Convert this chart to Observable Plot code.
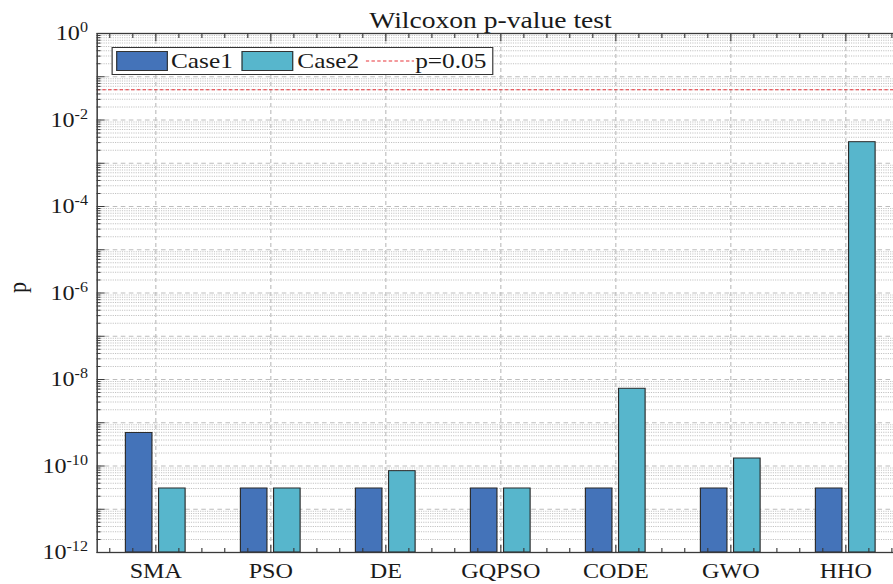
<!DOCTYPE html>
<html><head><meta charset="utf-8">
<script src="https://cdn.jsdelivr.net/npm/d3@7"></script>
<script src="https://cdn.jsdelivr.net/npm/@observablehq/plot@0.6"></script>
<style>
html,body{margin:0;padding:0;background:#fff;overflow:hidden;width:893px;height:584px}
#fig{position:relative;width:786px;height:584px;transform:scaleX(1.15);transform-origin:0 0;font-family:"Liberation Serif","Times New Roman",serif;color:#1a1a1a}
#fig svg.main{position:absolute;left:0;top:0}
.legbox{position:absolute;left:96.5px;top:47px;width:332px;height:28px;border:1px solid #333;background:#fff;box-sizing:border-box}
.sw{position:absolute;top:51px;width:45px;height:20px;border:1px solid #333;box-sizing:border-box}
.lt{position:absolute;top:47px;height:28px;line-height:28px;font-size:22px;white-space:nowrap}
svg.ll{position:absolute;left:318px;top:47px}
</style></head><body><div id="fig"></div>
<script>
// ---- data ----
const categories = ["SMA", "PSO", "DE", "GQPSO", "CODE", "GWO", "HHO"];
const seriesNames = ["Case1", "Case2"];
const case1 = [5.8e-10, 3.02e-11, 3.02e-11, 3.02e-11, 3.02e-11, 3.02e-11, 3.02e-11];
const case2 = [3.02e-11, 3.02e-11, 7.6e-11, 3.02e-11, 6.1e-9, 1.49e-10, 3.07e-3];
const threshold = 0.05;
const thresholdLabel = "p=0.05";
const titleText = "Wilcoxon p-value test";
const yLabelText = "p";
const yMin = 1e-12, yMax = 1;
const yMajor = d3.range(0, 13).map(k => Math.pow(10, -k));
const yLabeled = d3.range(0, 13, 2).map(k => Math.pow(10, -k));
const yMinor = d3.range(1, 13).flatMap(k => d3.range(2, 10).map(m => m * Math.pow(10, -k)));
const seriesColors = ["#4473b9", "#57b6cc"];
const lineColor = "#e8353b";

// ---- layout ----
const W = 786, H = 584, mL = 84, mR = 1, mT = 33, mB = 32;
const bw = (W - mL - mR) / categories.length;
const rows = [case1, case2].map(vals => categories.map((c, i) => ({category: c, p: vals[i]})));
const minorOffsets = [-0.4, -0.2, 0.2, 0.4];

const chart = Plot.plot({
  width: W, height: H,
  marginLeft: mL, marginRight: mR, marginTop: mT, marginBottom: mB,
  className: "main",
  style: {fontFamily: '"Liberation Serif","Times New Roman",serif', background: "transparent", overflow: "visible", color: "#1a1a1a"},
  x: {type: "band", domain: categories, padding: 0},
  y: {type: "log", domain: [yMin, yMax]},
  marks: [
    Plot.ruleY(yMinor, {stroke: "#c2c2c2", strokeDasharray: "1,1", strokeWidth: 1}),
    Plot.ruleY(yMajor, {stroke: "#bdbdbd", strokeDasharray: "4,3", strokeWidth: 1}),
    Plot.ruleX(categories, {stroke: "#bdbdbd", strokeDasharray: "4,3", strokeWidth: 1}),
    Plot.barY(rows[0], {x: "category", y1: yMin, y2: "p", fill: seriesColors[0], stroke: "#2a2a2a", strokeWidth: 1, insetLeft: 0.24 * bw, insetRight: 0.528 * bw}),
    Plot.barY(rows[1], {x: "category", y1: yMin, y2: "p", fill: seriesColors[1], stroke: "#2a2a2a", strokeWidth: 1, insetLeft: 0.528 * bw, insetRight: 0.24 * bw}),
    Plot.ruleY([threshold], {stroke: lineColor, strokeDasharray: "3,2", strokeWidth: 1}),
    Plot.frame({stroke: "#3a3a3a", strokeWidth: 1.3}),
    Plot.axisX({tickSize: 0, tickPadding: 11, fontSize: 21, label: null, fill: "#1a1a1a"}),
    Plot.axisX({tickSize: -7, text: null, label: null, stroke: "#3a3a3a"}),
    Plot.axisX({anchor: "top", tickSize: -7, text: null, label: null, stroke: "#3a3a3a"}),
    ...minorOffsets.map(f => Plot.axisX({tickSize: -4, text: null, label: null, dx: f * bw, stroke: "#3a3a3a"})),
    ...minorOffsets.map(f => Plot.axisX({anchor: "top", tickSize: -4, text: null, label: null, dx: f * bw, stroke: "#3a3a3a"})),
    Plot.axisY({ticks: yLabeled, tickSize: 0, tickPadding: 8, fontSize: 21, label: null, fill: "#1a1a1a",
      tickFormat: d => "10^" + Math.round(Math.log10(d))}),
    Plot.axisY({ticks: yMajor, tickSize: -7, text: null, label: null, stroke: "#3a3a3a"}),
    Plot.axisY({ticks: yMinor, tickSize: -3.5, text: null, label: null, stroke: "#3a3a3a"}),
    Plot.text([titleText], {frameAnchor: "top", dx: -8.5, dy: -6, lineAnchor: "bottom", fontSize: 24, fill: "#1a1a1a"}),
    Plot.text([yLabelText], {frameAnchor: "left", dx: -69, rotate: -90, fontSize: 22, fill: "#1a1a1a"})
  ]
});

// superscript exponents on y tick labels
const NS = "http://www.w3.org/2000/svg";
chart.querySelectorAll("text").forEach(t => {
  const s = t.textContent;
  if (!s.startsWith("10^")) return;
  const exp = s.slice(3);
  t.textContent = "";
  const a = document.createElementNS(NS, "tspan"); a.textContent = "10";
  const b = document.createElementNS(NS, "tspan"); b.textContent = exp;
  b.setAttribute("dy", "-8"); b.setAttribute("font-size", "14");
  t.append(a, b);
});

const fig = document.getElementById("fig");
fig.appendChild(chart);

// legend
const box = document.createElement("div"); box.className = "legbox"; fig.appendChild(box);
const swX = [101, 210], txX = [148.7, 258.5];
seriesNames.forEach((name, i) => {
  const sw = document.createElement("div"); sw.className = "sw";
  sw.style.left = swX[i] + "px"; sw.style.background = seriesColors[i]; fig.appendChild(sw);
  const tx = document.createElement("div"); tx.className = "lt";
  tx.style.left = txX[i] + "px"; tx.textContent = name; fig.appendChild(tx);
});
const ls = document.createElementNS(NS, "svg");
ls.setAttribute("class", "ll"); ls.setAttribute("width", "42"); ls.setAttribute("height", "28");
const ln = document.createElementNS(NS, "line");
ln.setAttribute("x1", "0"); ln.setAttribute("x2", "42"); ln.setAttribute("y1", "14"); ln.setAttribute("y2", "14");
ln.setAttribute("stroke", lineColor); ln.setAttribute("stroke-dasharray", "3,2");
ls.appendChild(ln); fig.appendChild(ls);
const pt = document.createElement("div"); pt.className = "lt"; pt.style.left = "361px"; pt.textContent = thresholdLabel;
fig.appendChild(pt);
</script></body></html>
